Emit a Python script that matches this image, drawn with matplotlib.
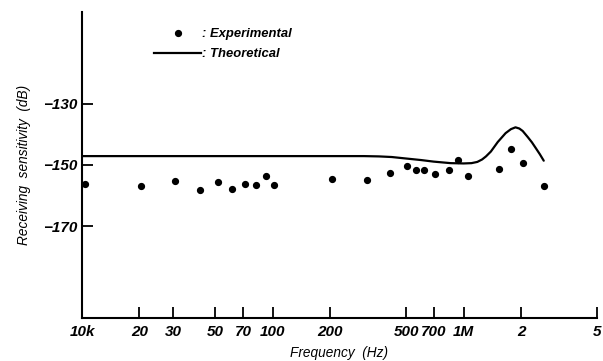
import matplotlib
matplotlib.use("Agg")
import matplotlib.pyplot as plt
from matplotlib.lines import Line2D

# Experimental data (Hz, dB)
exp_freq = [10.4e3, 20.4e3, 30.8e3, 41.6e3, 51.7e3, 61.3e3, 71.7e3, 81.9e3, 92.5e3, 102e3,
            205e3, 313e3, 409e3, 508e3, 560e3, 617e3, 705e3, 834e3, 930e3, 1.05e6,
            1.53e6, 1.77e6, 2.04e6, 2.63e6]
exp_db = [-156.3, -157.0, -155.3, -158.1, -155.6, -158.0, -156.1, -156.6, -153.7, -156.4,
          -154.7, -155.0, -152.6, -150.2, -151.5, -151.5, -152.9, -151.7, -148.4, -153.7,
          -151.2, -144.9, -149.3, -157.0]

# Theoretical curve (Hz, dB)
th_freq = [10e3, 300e3, 360e3, 420e3, 484e3, 600e3, 696e3, 855e3, 1.0e6, 1.1e6, 1.18e6, 1.25e6,
           1.31e6, 1.39e6, 1.51e6, 1.66e6, 1.77e6, 1.87e6, 1.96e6, 2.04e6, 2.17e6, 2.28e6,
           2.39e6, 2.51e6, 2.63e6]
th_db = [-147.1, -147.1, -147.2, -147.4, -147.8, -148.4, -148.9, -149.4, -149.5, -149.4, -149.0,
         -148.2, -147.2, -145.6, -142.5, -139.6, -138.3, -137.7, -138.1, -138.9, -140.9, -142.6,
         -144.5, -146.5, -148.6]

xtick_vals = [10e3, 20e3, 30e3, 50e3, 70e3, 100e3, 200e3, 500e3, 700e3, 1e6, 2e6, 5e6]
xtick_labels = ["10k", "20", "30", "50", "70", "100", "200", "500", "700", "1M", "2", "5"]
ytick_vals = [-130, -150, -170]
ytick_labels = ["\u2212130", "\u2212150", "\u2212170"]

fig = plt.figure(figsize=(6.03, 3.61), dpi=100)
ax = fig.add_axes([0.136, 0.119, 0.854, 0.848])

tick_font = dict(family=["Liberation Sans", "DejaVu Sans"], style="italic", weight="bold", size=11)
label_font = dict(family=["Liberation Sans", "DejaVu Sans"], style="italic", size=9.8)

ax.plot(th_freq, th_db, color="black", lw=1.6, solid_capstyle="round", solid_joinstyle="round")
ax.plot(exp_freq, exp_db, linestyle="none", marker="o", ms=4.2, color="black")

ax.set_xscale("log")
ax.set_xlim(10e3, 5e6)
ax.set_ylim(-200, -100)
ax.minorticks_off()
ax.set_xticks(xtick_vals)
ax.set_xticklabels(xtick_labels, **tick_font)
ax.set_yticks(ytick_vals)
ax.set_yticklabels(ytick_labels, **tick_font)
ax.tick_params(axis="both", direction="in", length=8, width=1.3)
ax.tick_params(axis="x", pad=5)
ax.tick_params(axis="y", pad=3)

for s in ["top", "right"]:
    ax.spines[s].set_visible(False)
for s in ["left", "bottom"]:
    ax.spines[s].set_linewidth(1.5)

ax.set_xlabel("Frequency  (Hz)", labelpad=5, **label_font)
ax.set_ylabel("Receiving  sensitivity  (dB)", **label_font)
ax.yaxis.set_label_coords(-0.1, 0.5)

handles = [Line2D([], [], linestyle="none", marker="o", ms=4.2, color="black"),
           Line2D([], [], color="black", lw=1.6)]
ax.legend(handles, [": Experimental", ": Theoretical"], loc="upper left",
          bbox_to_anchor=(0.117, 0.985), frameon=False, handlelength=3.6, handletextpad=0.1,
          labelspacing=0.6, prop=dict(family=["Liberation Sans", "DejaVu Sans"],
                                       style="italic", weight="bold", size=9.4))

fig.savefig("out.png", dpi=100)
